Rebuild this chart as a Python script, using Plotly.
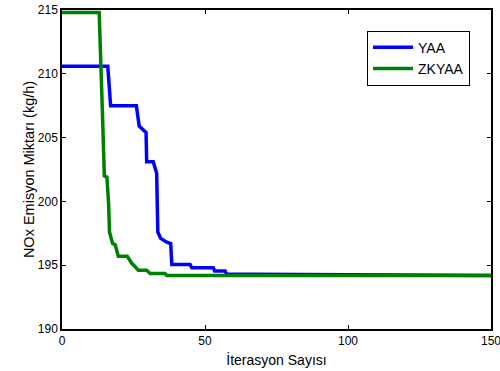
import plotly.graph_objects as go

# YAA breakpoints (iteration, NOx kg/h)
yaa_x = [0, 16, 17, 26, 27, 28.5, 29.4, 29.6, 31.9, 33.1, 33.5, 34.5, 36.6, 38, 38.4, 44.8, 45.4, 52.9, 53.4, 57, 57.6, 67, 150]
yaa_y = [210.6, 210.6, 207.5, 207.5, 205.9, 205.6, 205.4, 203.1, 203.1, 202.2, 197.6, 197.1, 196.8, 196.7, 195.05, 195.05, 194.8, 194.8, 194.55, 194.55, 194.3, 194.3, 194.2]

# ZKYAA breakpoints
zk_x = [0, 13, 14.2, 14.8, 15.7, 16.3, 16.6, 17.7, 18.6, 19.7, 22.8, 24.4, 25.5, 26.7, 29.6, 30.8, 36, 36.6, 150]
zk_y = [214.8, 214.8, 206.5, 202.0, 201.9, 199.8, 197.6, 196.7, 196.6, 195.7, 195.7, 195.15, 194.9, 194.6, 194.6, 194.35, 194.35, 194.2, 194.2]

x_ticks = [0, 50, 100, 150]
y_ticks = [190, 195, 200, 205, 210, 215]

fig = go.Figure()
fig.add_trace(go.Scatter(x=yaa_x, y=yaa_y, mode="lines", name="YAA",
                         line=dict(color="#0000ff", width=3.5)))
fig.add_trace(go.Scatter(x=zk_x, y=zk_y, mode="lines", name="ZKYAA",
                         line=dict(color="#008000", width=3.5)))

font_family = "Liberation Sans, Arial, sans-serif"
axis_common = dict(showline=True, linecolor="black", linewidth=1.5, mirror="ticks",
                   ticks="inside", ticklen=4, tickcolor="black", showgrid=False,
                   zeroline=False, automargin=False, ticklabeloverflow="allow",
                   tickfont=dict(family=font_family, size=12, color="black"))

fig.update_layout(
    width=500, height=371,
    margin=dict(l=62, r=9, t=10, b=42, autoexpand=False),
    paper_bgcolor="white", plot_bgcolor="white",
    font=dict(family=font_family, color="black"),
    showlegend=True,
    legend=dict(x=0.711, y=0.935, xanchor="left", yanchor="top",
                bgcolor="white", bordercolor="black", borderwidth=1,
                font=dict(family=font_family, size=14, color="black"),
                tracegroupgap=0, itemwidth=40),
    xaxis=dict(range=[0, 150], tickvals=x_ticks,
               title=dict(text="İterasyon Sayısı", standoff=8,
                          font=dict(family=font_family, size=14)),
               **axis_common),
    yaxis=dict(range=[190, 215], tickvals=y_ticks,
               title=dict(text="NOx Emisyon Miktarı (kg/h)", standoff=0,
                          font=dict(family=font_family, size=14.5)),
               **axis_common),
)

fig.write_html("out.html", config={"displayModeBar": False},
               post_script="document.body.style.margin='0';")
